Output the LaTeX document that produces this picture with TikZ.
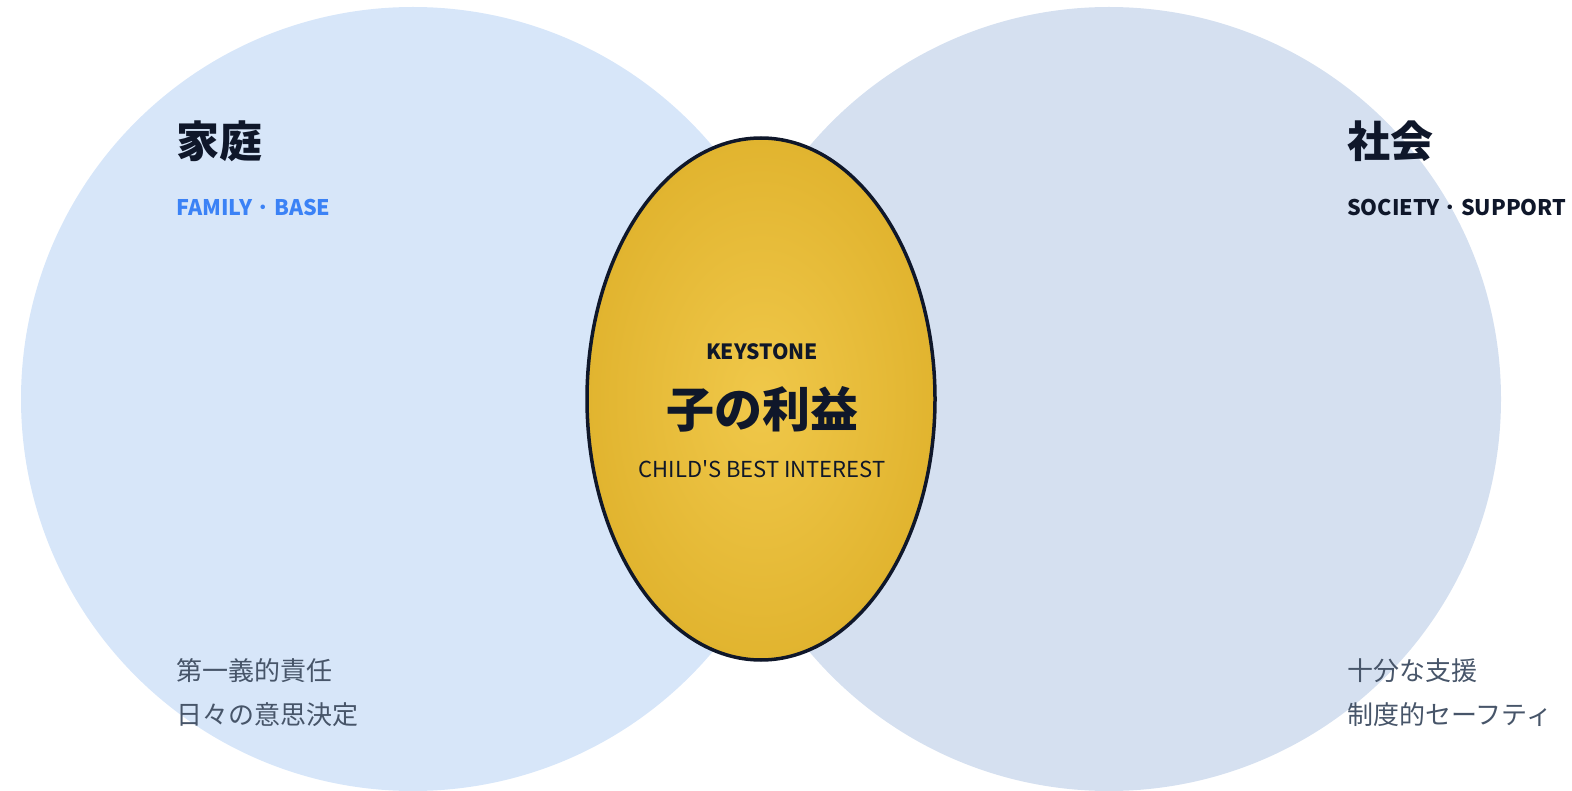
\documentclass[tikz,border=0pt]{standalone}
\usepackage{fontspec}
\setmainfont{Noto Sans CJK JP}
\newfontfamily\plainfont{Noto Sans CJK JP}
\definecolor{famfill}{HTML}{D7E6F9}
\definecolor{socfill}{HTML}{D5E0F0}
\definecolor{inkdark}{HTML}{0F172A}
\definecolor{inkgray}{HTML}{475569}
\definecolor{famblue}{HTML}{3B82F6}
\definecolor{goldin}{HTML}{F0C84A}
\definecolor{goldout}{HTML}{E1B42F}
\newcommand{\middot}{{\mdseries ・}}
\tikzset{
  bigtitle/.style={anchor=base west, inner sep=0pt, font=\fontsize{43}{43}\selectfont\bfseries, text=inkdark},
  subtitle/.style={anchor=base west, inner sep=0pt, font=\fontsize{21.5}{21.5}\selectfont\bfseries},
  itemtext/.style={anchor=base west, inner sep=0pt, font=\fontsize{26}{26}\selectfont, text=inkgray},
}
\begin{document}
\begin{tikzpicture}[x=1pt,y=-1pt]
\useasboundingbox (0,0) rectangle (1572,791);
\clip (0,0) rectangle (1572,791);
\fill[famfill] (413,399) circle[radius=392];
\fill[socfill] (1109,399) circle[radius=392];
\shade[inner color=goldin, outer color=goldout, draw=inkdark, line width=3.5pt]
  (761,399) ellipse[x radius=174, y radius=261];
\node[coordinate] (center) at (761,399) {};
% left
\node[bigtitle] (famtitle) at (176,158) {家庭};
\node[subtitle, text=famblue] (famsub) at (176,216) {FAMILY\middot BASE};
\node[itemtext] (fam1) at (176,680) {第一義的責任};
\node[itemtext] (fam2) at (176,724) {日々の意思決定};
% right
\node[bigtitle] (soctitle) at (1347,158) {社会};
\node[subtitle, text=inkdark] (socsub) at (1347,216) {SOCIETY\middot SUPPORT};
\node[itemtext] (soc1) at (1347,680) {十分な支援};
\node[itemtext] (soc2) at (1347,724) {制度的セーフティ};
% center
\node[anchor=base, inner sep=0pt, font=\fontsize{21}{21}\selectfont\bfseries, text=inkdark] (key) at (762,360) {KEYSTONE};
\node[anchor=base, inner sep=0pt, font=\fontsize{48}{48}\selectfont\bfseries, text=inkdark] (main) at (762,428) {子の利益};
\node[anchor=base, inner sep=0pt, font=\plainfont\fontsize{22}{22}\selectfont, text=inkdark] (eng) at (762,477) {CHILD'S BEST INTEREST};
\end{tikzpicture}
\end{document}
